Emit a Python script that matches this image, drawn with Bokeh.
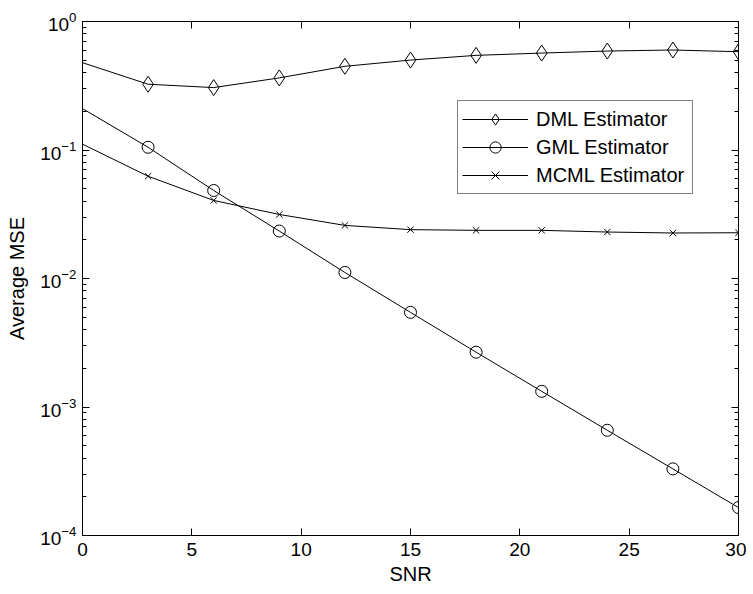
from bokeh.plotting import figure
from bokeh.models import Range1d, FixedTicker, LogAxis, LinearAxis, Legend, LegendItem
from bokeh.embed import file_html
from bokeh.resources import INLINE

# ---- data ----
snr = [0, 3, 6, 9, 12, 15, 18, 21, 24, 27, 30]
dml = [0.478, 0.325, 0.306, 0.364, 0.448, 0.501, 0.545, 0.568, 0.589, 0.600, 0.582]
gml = [0.210, 0.105, 0.0484, 0.0234, 0.01114, 0.00545, 0.00267, 0.001324, 0.000659, 0.000330, 0.000165]
mcml = [0.111, 0.0625, 0.0405, 0.0315, 0.0259, 0.0240, 0.0237, 0.0237, 0.0230, 0.0226, 0.0227]
series_names = ["DML Estimator", "GML Estimator", "MCML Estimator"]
x_ticks = [0, 5, 10, 15, 20, 25, 30]
y_ticks = [1e-4, 1e-3, 1e-2, 1e-1, 1e0]
y_minor = [m * t for t in y_ticks[:-1] for m in range(2, 10)]

FONT = "Liberation Sans"
FS = "19px"
FS_LAB = "20px"

BL, BT, BR, BB = 82, 21, 8, 50
FW, FH = 656, 516
W, H = BL + FW + BR, BT + FH + BB
p = figure(width=W, height=H, y_axis_type="log",
           x_range=Range1d(0, 30), y_range=Range1d(1e-4, 1),
           output_backend="svg", toolbar_location=None,
           min_border_left=BL, min_border_right=BR,
           min_border_top=BT, min_border_bottom=BB)
p.background_fill_color = "white"
p.border_fill_color = "white"
p.outline_line_color = "black"
p.outline_line_width = 1
p.xgrid.grid_line_color = None
p.ygrid.grid_line_color = None

bottom_ax = p.below[0]
left_ax = p.left[0]
bottom_ax.ticker = FixedTicker(ticks=x_ticks)
left_ax.ticker = FixedTicker(ticks=y_ticks, minor_ticks=y_minor)
bottom_ax.axis_label = "SNR"
left_ax.axis_label = "Average MSE"

top_ax = LinearAxis(ticker=FixedTicker(ticks=x_ticks))
right_ax = LogAxis(ticker=FixedTicker(ticks=y_ticks, minor_ticks=y_minor))
p.add_layout(top_ax, "above")
p.add_layout(right_ax, "right")

for ax in [bottom_ax, left_ax, top_ax, right_ax]:
    ax.axis_line_color = "black"
    ax.axis_line_width = 1
    ax.major_tick_line_color = "black"
    ax.minor_tick_line_color = "black"
    ax.major_tick_in = 7
    ax.major_tick_out = 0
    ax.minor_tick_in = 4
    ax.minor_tick_out = 0
    ax.major_label_text_font = FONT
    ax.major_label_text_font_size = FS
    ax.major_label_text_color = "black"
    ax.axis_label_text_font = FONT
    ax.axis_label_text_font_size = FS_LAB
    ax.axis_label_text_font_style = "normal"
    ax.axis_label_text_color = "black"

for ax in [bottom_ax, top_ax]:
    ax.minor_tick_line_color = None

for ax in [top_ax, right_ax]:
    ax.major_label_text_font_size = "1px"
    ax.major_label_text_color = None
    ax.major_label_standoff = 0

bottom_ax.major_label_standoff = 7
bottom_ax.axis_label_standoff = 4
left_ax.major_label_standoff = 6
left_ax.axis_label_standoff = 9

items = []
markers = [("diamond", 16), ("circle", 12), ("x", 9)]
for name, ys, (mk, sz) in zip(series_names, [dml, gml, mcml], markers):
    lr = p.line(snr, ys, line_color="black", line_width=1)
    sr = p.scatter(snr[1:], ys[1:], marker=mk, size=sz,
                   line_color="black", line_width=1, fill_color=None)
    items.append(LegendItem(label=name, renderers=[lr, sr]))

legend = Legend(items=items, location=(375, 341), margin=0, padding=4,
                spacing=0, glyph_height=28, label_height=28, glyph_width=66,
                label_standoff=8, label_width=152,
                border_line_color="black", border_line_width=1,
                background_fill_color="white", background_fill_alpha=1,
                label_text_font=FONT, label_text_font_size=FS_LAB,
                label_text_color="black")
p.add_layout(legend)

open("out.html", "w").write(file_html(p, INLINE))
